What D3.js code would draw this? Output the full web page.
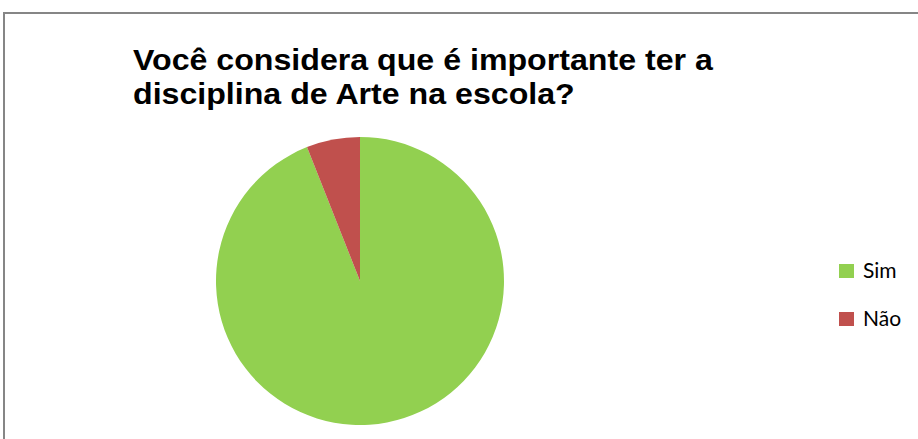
<!DOCTYPE html>
<html><head><meta charset="utf-8">
<script src="https://cdn.jsdelivr.net/npm/d3@7"></script>
<style>body{margin:0;background:#fff}svg{display:block}</style>
</head><body>
<script>
const categories = ["Sim", "Não"];
const values = [94, 6];
const colors = ["#92D050", "#C0504D"];
const titleLines = ["Você considera que é importante ter a", "disciplina de Arte na escola?"];

const W = 918, H = 439;
const svg = d3.select("body").append("svg").attr("width", W).attr("height", H);

svg.append("rect").attr("x", 4).attr("y", 13).attr("width", 1000).attr("height", 1000)
  .attr("fill", "#fff").attr("stroke", "#868686").attr("stroke-width", 2);

const tg = svg.append("g");
const tt = tg.selectAll("text").data(titleLines).join("text")
  .attr("x", 0).attr("y", (d, i) => 70.5 + i * 34)
  .attr("font-family", "Liberation Sans, Arial, sans-serif")
  .attr("font-weight", "bold").attr("font-size", 29.5).attr("fill", "#000")
  .text(d => d);
const w0 = tt.node().getComputedTextLength();
tg.attr("transform", `translate(133,0) scale(${580 / w0},1)`);

const data = categories.map((c, i) => ({ c, v: values[i] }));
const pie = d3.pie().value(d => d.v).sort(null);
const arc = d3.arc().innerRadius(0).outerRadius(144);
const color = d3.scaleOrdinal().domain(categories).range(colors);

svg.append("g").attr("transform", "translate(360,281)")
  .selectAll("path").data(pie(data)).join("path")
  .attr("d", arc).attr("fill", d => color(d.data.c));

const lg = svg.append("g").selectAll("g").data(categories).join("g")
  .attr("transform", (d, i) => `translate(839,${264 + i * 48})`);
lg.append("rect").attr("width", 15).attr("height", 14).attr("fill", d => color(d));
lg.append("text").attr("x", 24).attr("y", 14)
  .attr("font-family", "Lato, 'Open Sans', sans-serif").attr("font-size", 21).attr("fill", "#000")
  .text(d => d);
</script>
</body></html>
